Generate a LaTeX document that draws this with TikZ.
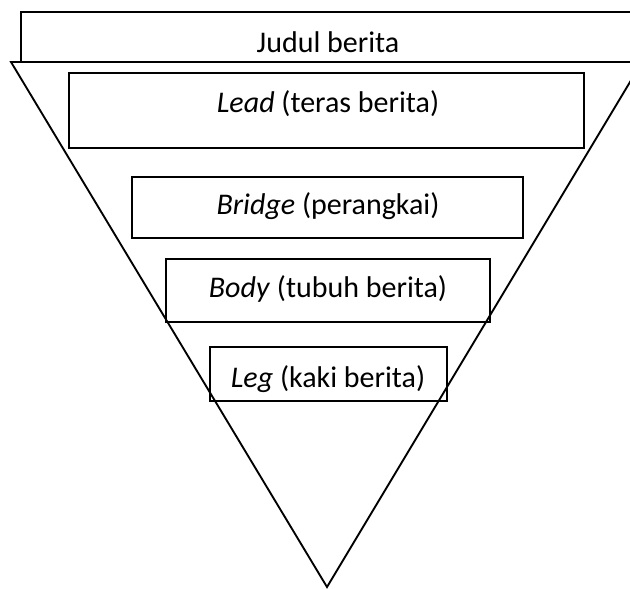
\documentclass[tikz,border=0pt]{standalone}
\usepackage{fontspec}
\setmainfont{Carlito}
\begin{document}
\begin{tikzpicture}[x=0.75pt,y=-0.75pt,
  box/.style={draw, line width=1.6pt, rectangle, inner sep=0pt},
  txt/.style={anchor=base, inner sep=0pt, font=\fontsize{22.5}{27}\selectfont},
  tri/.style={line width=1.4pt, line join=miter}]
\useasboundingbox (0,0) rectangle (630,588);
\clip (0,0) rectangle (630,588);
% boxes (empty frames), centres and sizes in px
\node[box, minimum width=464.25pt, minimum height=37.5pt] (judul) at (330.5,37) {};
\node[box, minimum width=386.25pt, minimum height=56.25pt] (lead) at (326.5,110.5) {};
\node[box, minimum width=293.25pt, minimum height=45.75pt] (bridge) at (327.5,207.5) {};
\node[box, minimum width=243pt, minimum height=47.25pt] (body) at (328,290.5) {};
\node[box, minimum width=177.75pt, minimum height=40.5pt] (leg) at (328.5,374) {};
% triangle
\coordinate (tl) at (11,62);
\coordinate (tr) at (642,62);
\coordinate (apex) at (327,587);
\draw[tri] (tl) -- (tr) -- (apex) -- cycle;
% texts
\node[txt] (tjudul) at (328,53) {Judul berita};
\node[txt] (tlead) at (328,112.5) {\textit{Lead} (teras berita)};
\node[txt] (tbridge) at (328,214.5) {\textit{Bridge} (perangkai)};
\node[txt] (tbody) at (328,297.5) {\textit{Body} (tubuh berita)};
\node[txt] (tleg) at (328,387.5) {\textit{Leg} (kaki berita)};
\end{tikzpicture}
\end{document}
